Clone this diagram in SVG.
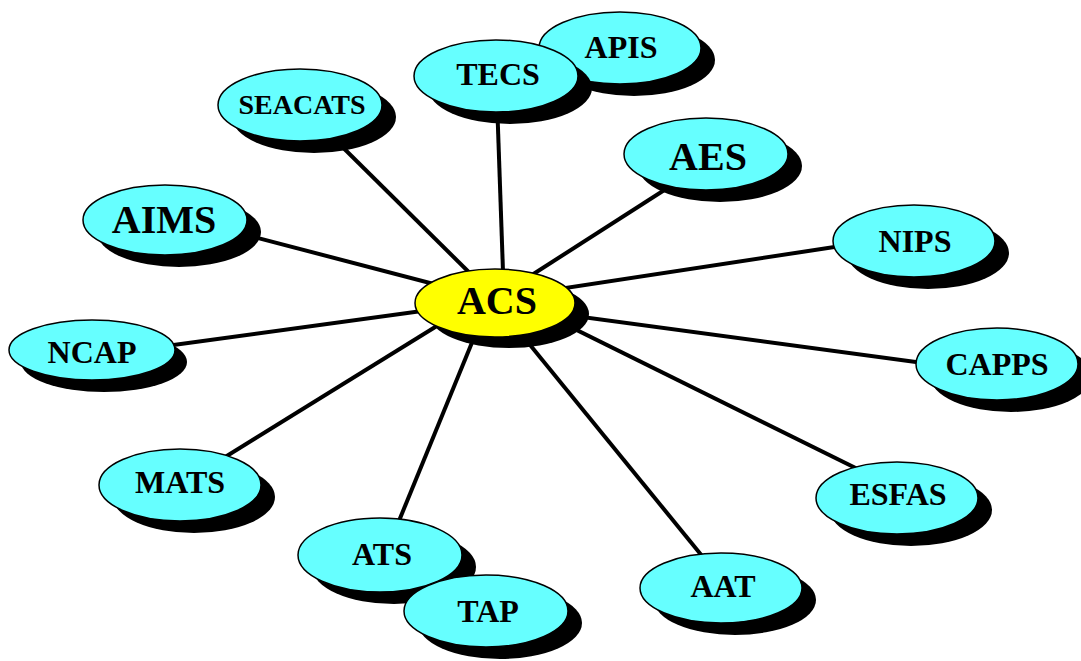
<svg xmlns="http://www.w3.org/2000/svg" width="1081" height="661" viewBox="0 0 1081 661">
<style>
.sh{fill:#000}
.n{fill:#66FFFF;stroke:#000;stroke-width:1.5}
.c{fill:#FFFF00;stroke:#000;stroke-width:1.5}
text{font-family:"Liberation Serif","Times New Roman",serif;font-weight:bold;fill:#000;text-anchor:middle}
.t32{font-size:32px}
.t28{font-size:28px}
.t40{font-size:40px}
line{stroke:#000;stroke-width:4}
</style>
<rect width="1081" height="661" fill="#fff"/>
<g id="connectors">
<line x1="300" y1="105" x2="495" y2="298"/>
<line x1="497" y1="100" x2="504" y2="300"/>
<line x1="680" y1="180" x2="510" y2="289"/>
<line x1="900" y1="237" x2="500" y2="298"/>
<line x1="990" y1="372" x2="500" y2="306"/>
<line x1="890" y1="485" x2="500" y2="292"/>
<line x1="720" y1="578" x2="500" y2="308"/>
<line x1="385" y1="555" x2="480" y2="323"/>
<line x1="180" y1="485" x2="495" y2="290"/>
<line x1="100" y1="355" x2="495" y2="301"/>
<line x1="170" y1="215" x2="495" y2="300"/>
</g>
<g id="APIS"><ellipse class="sh" cx="634" cy="60" rx="81" ry="36"/><ellipse class="n" cx="620" cy="48" rx="81" ry="36"/><text class="t32" x="621" y="58">APIS</text></g>
<g id="TECS"><ellipse class="sh" cx="510" cy="88" rx="82" ry="36"/><ellipse class="n" cx="496" cy="76" rx="82" ry="36"/><text class="t32" x="498" y="85">TECS</text></g>
<g id="SEACATS"><ellipse class="sh" cx="314" cy="117" rx="82" ry="36"/><ellipse class="n" cx="300" cy="105" rx="82" ry="36"/><text class="t28" x="302" y="114">SEACATS</text></g>
<g id="AES"><ellipse class="sh" cx="720" cy="166" rx="82" ry="36"/><ellipse class="n" cx="706" cy="154" rx="82" ry="36"/><text class="t40" x="708" y="170">AES</text></g>
<g id="AIMS"><ellipse class="sh" cx="179" cy="232" rx="82" ry="35"/><ellipse class="n" cx="165" cy="220" rx="82" ry="35"/><text class="t40" x="164" y="233">AIMS</text></g>
<g id="NIPS"><ellipse class="sh" cx="928" cy="253" rx="81" ry="36"/><ellipse class="n" cx="914" cy="241" rx="81" ry="36"/><text class="t32" x="915" y="252">NIPS</text></g>
<g id="NCAP"><ellipse class="sh" cx="104" cy="362" rx="83" ry="30"/><ellipse class="n" cx="92" cy="350" rx="83" ry="30"/><text class="t32" x="92" y="363">NCAP</text></g>
<g id="CAPPS"><ellipse class="sh" cx="1011" cy="376" rx="81" ry="36"/><ellipse class="n" cx="997" cy="364" rx="81" ry="36"/><text class="t32" x="997" y="375">CAPPS</text></g>
<g id="MATS"><ellipse class="sh" cx="194" cy="497" rx="81" ry="36"/><ellipse class="n" cx="180" cy="485" rx="81" ry="36"/><text class="t32" x="180" y="493">MATS</text></g>
<g id="ESFAS"><ellipse class="sh" cx="911" cy="510" rx="81" ry="36"/><ellipse class="n" cx="897" cy="498" rx="81" ry="36"/><text class="t32" x="898" y="505">ESFAS</text></g>
<g id="AAT"><ellipse class="sh" cx="735" cy="600" rx="81" ry="35"/><ellipse class="n" cx="721" cy="588" rx="81" ry="35"/><text class="t32" x="723" y="597">AAT</text></g>
<g id="ATS"><ellipse class="sh" cx="394" cy="567" rx="82" ry="37"/><ellipse class="n" cx="380" cy="555" rx="82" ry="37"/><text class="t32" x="382" y="565">ATS</text></g>
<g id="TAP"><ellipse class="sh" cx="500" cy="623" rx="82" ry="36"/><ellipse class="n" cx="486" cy="611" rx="82" ry="36"/><text class="t32" x="488" y="622">TAP</text></g>
<g id="ACS"><ellipse class="sh" cx="509" cy="314" rx="80" ry="34"/><ellipse class="c" cx="495" cy="303" rx="80" ry="34"/><text class="t40" x="497" y="314">ACS</text></g>
</svg>
